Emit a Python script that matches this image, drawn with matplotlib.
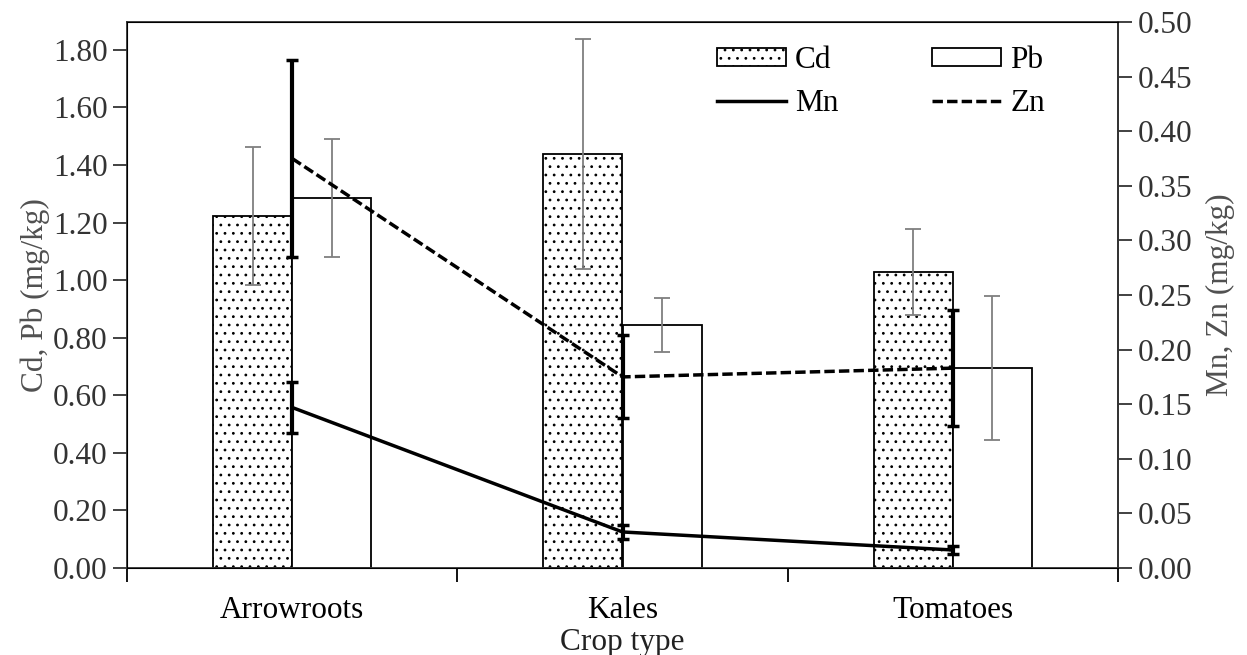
import numpy as np
import matplotlib
matplotlib.use("Agg")
import matplotlib.pyplot as plt

crops = ["Arrowroots", "Kales", "Tomatoes"]

cd = [1.223, 1.438, 1.029]
cd_err = [0.24, 0.40, 0.15]
pb = [1.286, 0.844, 0.695]
pb_err = [0.205, 0.095, 0.25]

mn = [0.147, 0.033, 0.0165]
mn_err = [0.023, 0.006, 0.004]
zn = [0.375, 0.175, 0.183]
zn_err = [0.090, 0.038, 0.053]

plt.rcParams['font.family'] = ['Liberation Serif', 'DejaVu Serif']
plt.rcParams['hatch.linewidth'] = 0.8
plt.rcParams['font.size'] = 22.5

fig = plt.figure(figsize=(12.47, 6.55), dpi=100)
ax = fig.add_axes([127/1247, 1-568/655, (1118-127)/1247, (568-22)/655])

x = np.arange(len(crops))
w = 0.24
bar_err = dict(ecolor='#7f7f7f', elinewidth=1.3, capsize=6, capthick=1.3)
b1 = ax.bar(x - w/2, cd, w, yerr=cd_err, color='white', edgecolor='black',
            linewidth=1.3, hatch='..', error_kw=bar_err, label='Cd')
b2 = ax.bar(x + w/2, pb, w, yerr=pb_err, color='white', edgecolor='black',
            linewidth=1.3, error_kw=bar_err, label='Pb')

ax.set_xlim(-0.5, 2.5)
ax.set_ylim(0, 1.897)
ax.set_yticks(np.arange(0, 1.81, 0.2))
ax.yaxis.set_major_formatter(matplotlib.ticker.FormatStrFormatter('%.2f'))
ax.set_xticks(x)
ax.set_xticklabels(crops)
ax.set_xticks([-0.5, 0.5, 1.5, 2.5], minor=True)
ax.tick_params(axis='x', which='major', length=0, pad=20)
ax.tick_params(axis='x', which='minor', length=10, width=1.3, direction='out')
ax.tick_params(axis='y', length=10, width=1.3, direction='out', pad=4, colors='#333333', labelcolor='#333333')
for s in ax.spines.values():
    s.set_linewidth(1.3)
    s.set_color('#333333')
ax.set_xlabel("Crop type", labelpad=2, color='#222222')
ax.set_ylabel("Cd, Pb (mg/kg)", color='#505050', labelpad=2)

ax2 = ax.twinx()
ax2.set_ylim(0, 0.5)
ax2.set_yticks(np.arange(0, 0.501, 0.05))
ax2.yaxis.set_major_formatter(matplotlib.ticker.FormatStrFormatter('%.2f'))
ax2.tick_params(axis='y', length=10, width=1.3, direction='out', pad=4, colors='#333333', labelcolor='#333333')
ax2.spines['right'].set_linewidth(1.3)
ax2.spines['right'].set_color('#333333')
ax2.set_ylabel("Mn, Zn (mg/kg)", color='#505050', labelpad=10)

l1 = ax2.errorbar(x, mn, yerr=mn_err, color='black', lw=2.5, elinewidth=3,
                  capsize=4, capthick=2.5, label='Mn')
l2 = ax2.errorbar(x, zn, yerr=zn_err, color='black', lw=2.5, elinewidth=3,
                  capsize=4, capthick=2.5, ls=(0, (3, 1.2)), label='Zn')

handles = [b1, plt.Line2D([], [], color='black', lw=2.5),
           b2, plt.Line2D([], [], color='black', lw=2.5, ls=(0, (3, 1.2)))]
labels = ['Cd', 'Mn', 'Pb', 'Zn']
ax2.legend(handles, labels, ncol=2, frameon=False, loc='upper left',
           bbox_to_anchor=(717/1247, 1-46/655), bbox_transform=fig.transFigure,
           borderpad=0, borderaxespad=0, handlelength=2.2, handleheight=0.5,
           handletextpad=0.3, columnspacing=3.0, labelspacing=0.45)

fig.savefig("out.png", dpi=100)
